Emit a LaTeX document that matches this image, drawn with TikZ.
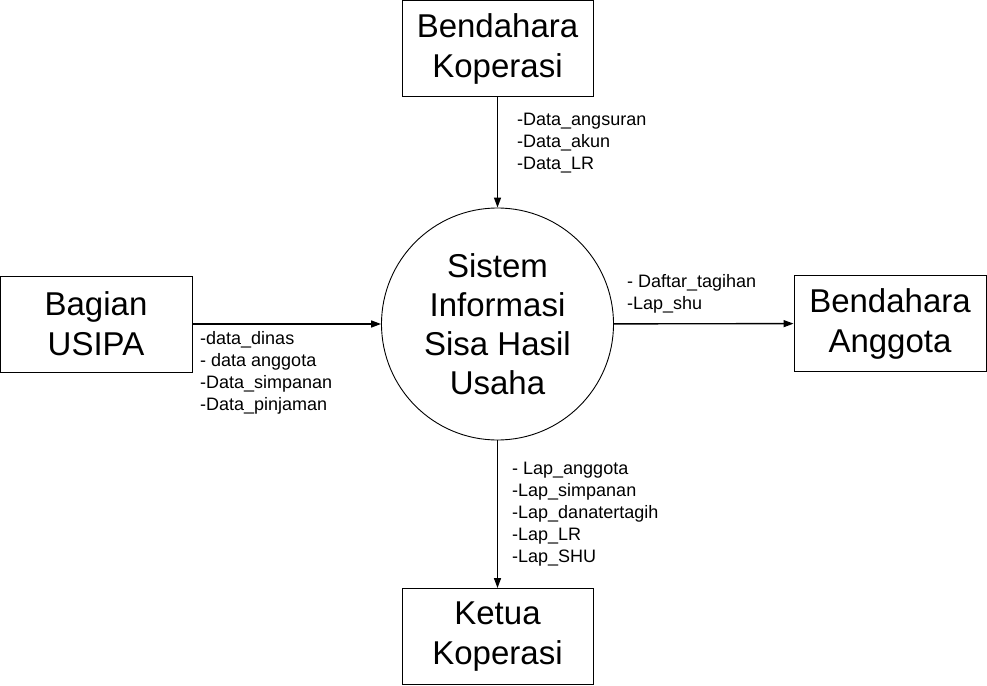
\documentclass[tikz,border=0pt]{standalone}
\usepackage{fontspec}
\setmainfont{Liberation Sans}
\usetikzlibrary{arrows.meta}
\begin{document}
\begin{tikzpicture}[x=1pt,y=-1pt,
  entity/.style={draw,line width=0.9pt,rectangle,minimum width=191pt,minimum height=96pt,align=center,inner sep=0pt,font=\fontsize{33}{40}\selectfont},
  proc/.style={draw,line width=0.9pt,circle,minimum size=232pt,inner sep=0pt,align=center,font=\fontsize{33}{39}\selectfont},
  flow/.style={line width=1.4pt,-{Triangle[length=10pt,width=7pt]}},
  lbl/.style={anchor=west,align=left,inner sep=0pt,font=\fontsize{18}{22}\selectfont}]
\useasboundingbox (0,0) rectangle (987,685);
\node[entity] (bk) at (497.5,48.5) {Bendahara\\Koperasi};
\node[entity,minimum width=192pt] (bu) at (96,324) {Bagian\\USIPA};
\node[entity,minimum width=192pt] (ba) at (890,323.5) {Bendahara\\Anggota};
\node[entity] (kk) at (497.5,636.5) {Ketua\\Koperasi};
\node[proc] (sys) at (497.5,324) {Sistem\\Informasi\\Sisa Hasil\\Usaha};
\draw[flow] (bk) -- (sys);
\draw[flow] (bu) -- (sys);
\draw[flow] (sys) -- (ba);
\draw[flow] (sys) -- (kk);
\node[lbl] (l1) at (517,143) {-Data\_angsuran\\-Data\_akun\\-Data\_LR};
\node[lbl] (l2) at (200,372.5) {-data\_dinas\\- data anggota\\-Data\_simpanan\\-Data\_pinjaman};
\node[lbl] (l3) at (627,294) {- Daftar\_tagihan\\-Lap\_shu};
\node[lbl] (l4) at (512,514) {- Lap\_anggota\\-Lap\_simpanan\\-Lap\_danatertagih\\-Lap\_LR\\-Lap\_SHU};
\end{tikzpicture}
\end{document}
